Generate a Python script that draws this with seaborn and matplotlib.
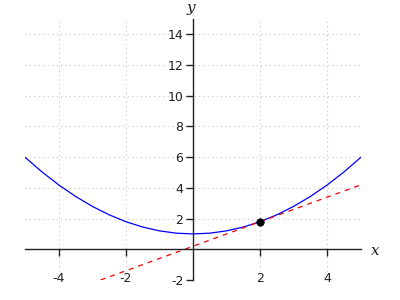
import matplotlib
matplotlib.use("Agg")
import matplotlib.pyplot as plt
import seaborn as sns
import pandas as pd

# Curve values
curve_x = [-5, -4.5, -4, -3.5, -3, -2.5, -2, -1.5, -1, -0.5, 0,
           0.5, 1, 1.5, 2, 2.5, 3, 3.5, 4, 4.5, 5]
curve_y = [6.0, 5.05, 4.2, 3.45, 2.8, 2.25, 1.8, 1.45, 1.2, 1.05, 1.0,
           1.05, 1.2, 1.45, 1.8, 2.25, 2.8, 3.45, 4.2, 5.05, 6.0]
# Tangent line end points
tangent_x = [-2.75, 5]
tangent_y = [-2.0, 4.2]
# Marked point
point_x = [2]
point_y = [1.8]

x_ticks = [-4, -2, 2, 4]
y_ticks = [-2, 2, 4, 6, 8, 10, 12, 14]

sns.set_style("white")
plt.rcParams["axes.unicode_minus"] = False
plt.rcParams["font.family"] = ["DejaVu Sans"]

fig = plt.figure(figsize=(4, 3), dpi=100)
ax = fig.add_axes([0.0625, 0.0667, 0.84, 0.87])

df_c = pd.DataFrame({"x": curve_x, "y": curve_y})
df_t = pd.DataFrame({"x": tangent_x, "y": tangent_y})
df_p = pd.DataFrame({"x": point_x, "y": point_y})

sns.lineplot(data=df_c, x="x", y="y", ax=ax, color="#0000ff", lw=0.9, sort=False)
sns.lineplot(data=df_t, x="x", y="y", ax=ax, color="#ff0000", lw=0.9,
             linestyle=(0, (4, 4)), sort=False)
sns.scatterplot(data=df_p, x="x", y="y", ax=ax, color="black", s=30,
                edgecolor="black", zorder=5)

ax.set_xlim(-5, 5)
ax.set_ylim(-2, 15)
ax.set_xticks(x_ticks)
ax.set_yticks(y_ticks)
ax.set_xlabel("")
ax.set_ylabel("")

for s in ["top", "right"]:
    ax.spines[s].set_visible(False)
ax.spines["left"].set_position(("data", 0))
ax.spines["bottom"].set_position(("data", 0))
for s in ["left", "bottom"]:
    ax.spines[s].set_color("#222222")
    ax.spines[s].set_linewidth(1.0)

ax.tick_params(axis="x", direction="out", length=5, width=1, pad=11,
               labelsize=9, colors="#222222", bottom=True)
ax.tick_params(axis="y", direction="out", length=5, width=1, pad=2,
               labelsize=9, colors="#222222", left=True)

ax.grid(True, color="#c4c4c4", linestyle=(0, (1, 3)), linewidth=0.8)
ax.set_axisbelow(True)

fig.text(375 / 400, 1 - 251 / 300, "x", family="DejaVu Serif", style="italic",
         fontsize=11, ha="center", va="center", color="#222222")
fig.text(191 / 400, 1 - 1 / 300, "y", family="DejaVu Serif", style="italic",
         fontsize=11, ha="center", va="top", color="#222222")

fig.savefig("out.png", dpi=100)
